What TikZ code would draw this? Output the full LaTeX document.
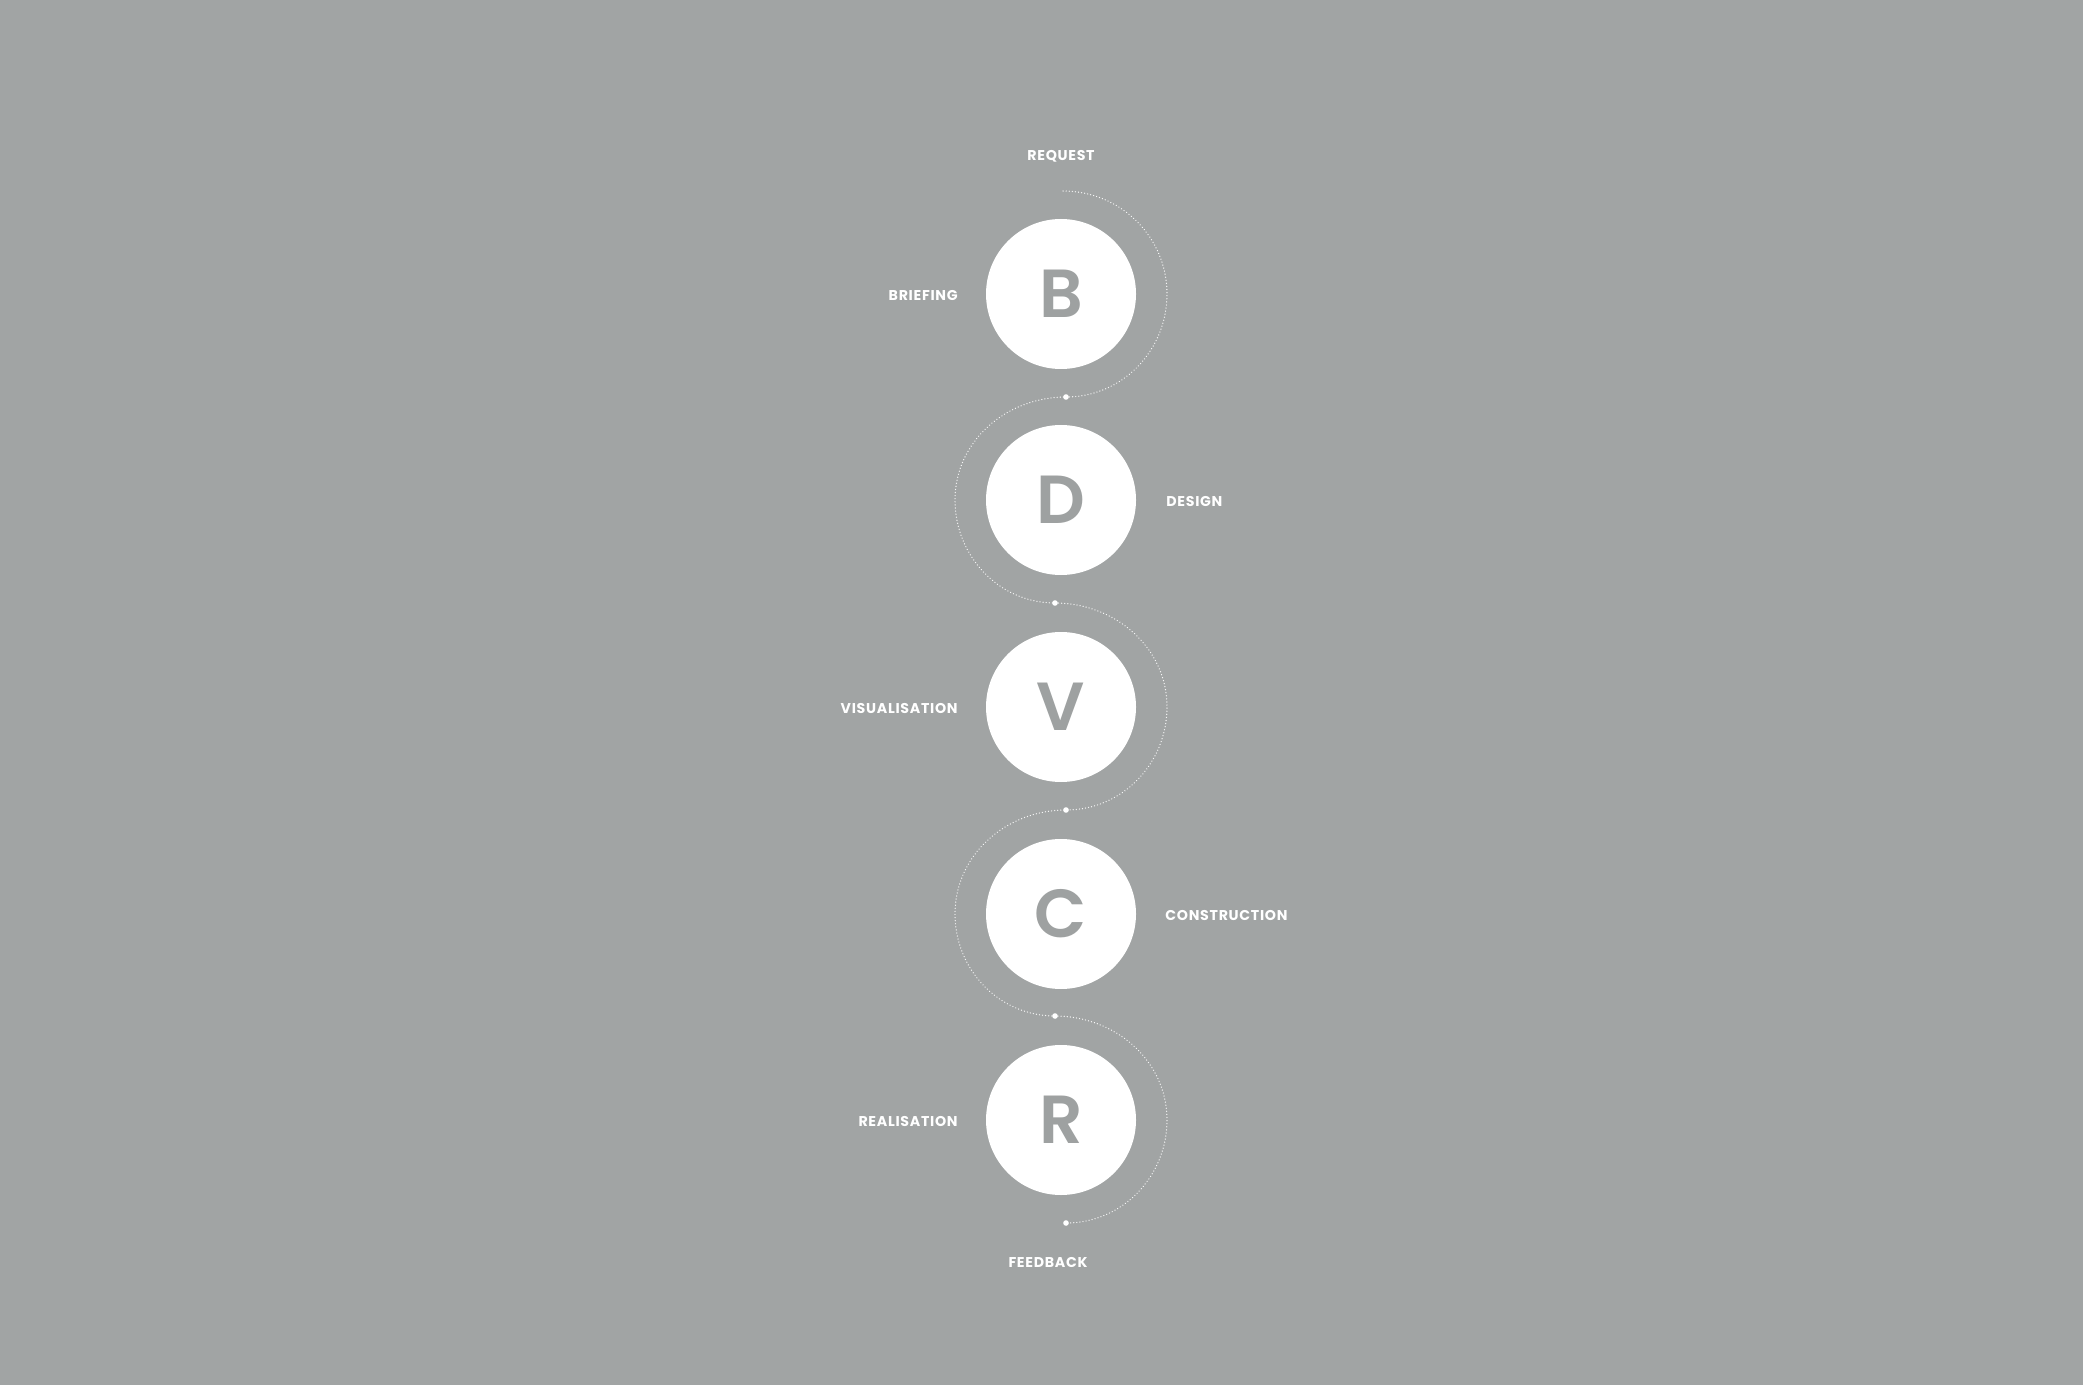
\documentclass[tikz,border=0pt]{standalone}
\usepackage{fontspec}
\newfontfamily\labfont{Poppins}[LetterSpace=5]
\newfontfamily\bigfont{Poppins SemiBold}
\definecolor{bg}{RGB}{161,164,164}
\definecolor{glyph}{RGB}{158,161,161}
\tikzset{
  stage/.style={circle, fill=white, minimum size=75pt, inner sep=0pt,
    text=glyph, font=\bigfont\fontsize{34}{34}\selectfont},
  lab/.style={inner sep=0pt, text=white,
    font=\labfont\bfseries\fontsize{7.1}{7.1}\selectfont},
  wp/.style={circle, fill=white, minimum size=2.8pt, inner sep=0pt},
  flow/.style={white, opacity=0.9, line width=0.65pt, line cap=round,
    dash pattern=on 0.05pt off 1.5pt}
}
\begin{document}
\begin{tikzpicture}[x=0.5pt,y=0.5pt]
\fill[bg] (0,0) rectangle (2083,-1385);
\useasboundingbox (0,0) rectangle (2083,-1385);

% flow path coordinates
\coordinate (s)  at (1063,-191);
\coordinate (e1) at (1167,-294);
\coordinate (d1) at (1066,-397);
\coordinate (e2) at (955,-500);
\coordinate (d2) at (1055,-603);
\coordinate (e3) at (1167,-707);
\coordinate (d3) at (1066,-810);
\coordinate (e4) at (955,-914);
\coordinate (d4) at (1055,-1016);
\coordinate (e5) at (1167,-1120);
\coordinate (d5) at (1066,-1223);

\draw[flow] (s) to[out=0,in=90] (e1) to[out=-90,in=0] (d1)
  to[out=180,in=90] (e2) to[out=-90,in=180] (d2)
  to[out=0,in=90] (e3) to[out=-90,in=0] (d3)
  to[out=180,in=90] (e4) to[out=-90,in=180] (d4)
  to[out=0,in=90] (e5) to[out=-90,in=0] (d5);

\foreach \i in {1,...,5} \node[wp] (w\i) at (d\i) {};

% stages
\node[stage] (B) at (1061,-294) {B};
\node[stage] (D) at (1061,-500) {D};
\node[stage] (V) at (1061,-707) {V};
\node[stage] (C) at (1061,-914) {C};
\node[stage] (R) at (1061,-1120) {R};

% labels
\node[lab] (req) at (1061,-156) {REQUEST};
\node[lab, anchor=east] (bri) at (958,-295) {BRIEFING};
\node[lab, anchor=west] (des) at (1166,-501) {DESIGN};
\node[lab, anchor=east] (vis) at (958,-708) {VISUALISATION};
\node[lab, anchor=west] (con) at (1165,-915) {CONSTRUCTION};
\node[lab, anchor=east] (rea) at (958,-1121) {REALISATION};
\node[lab] (fee) at (1048,-1262) {FEEDBACK};
\end{tikzpicture}
\end{document}
